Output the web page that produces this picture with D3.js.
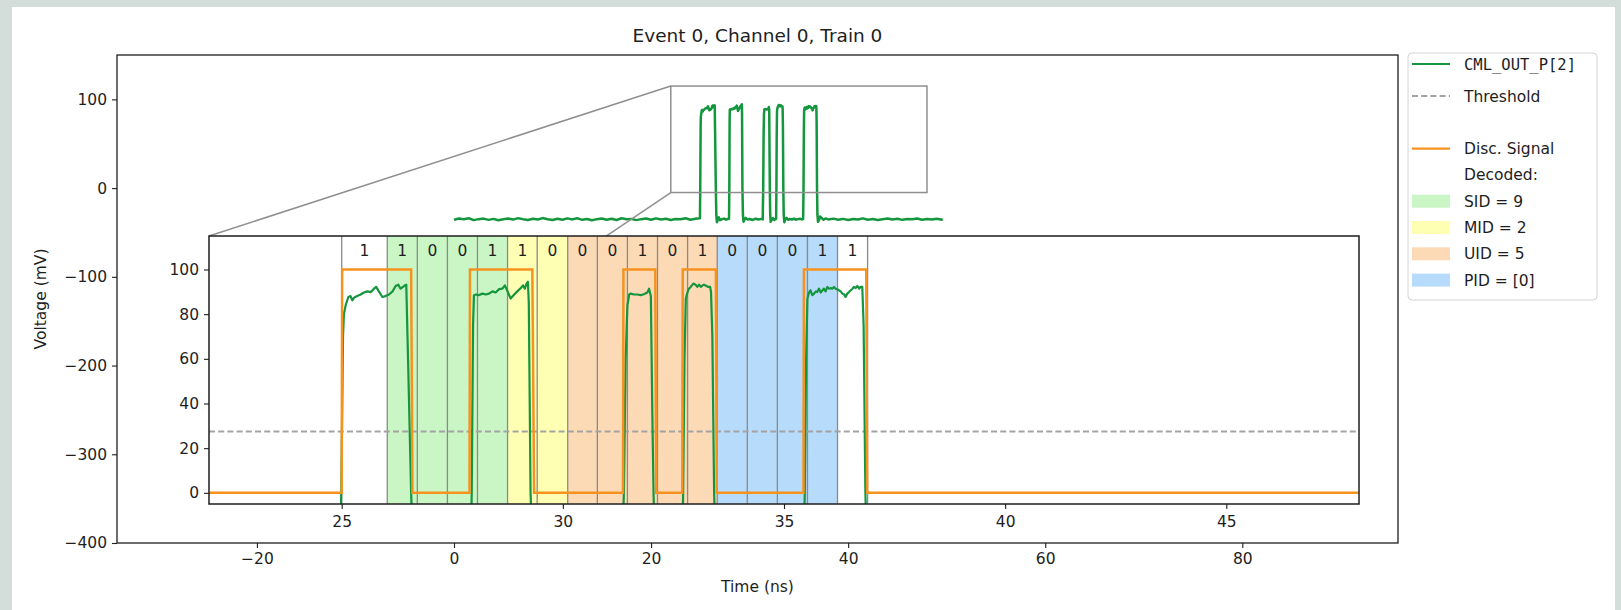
<!DOCTYPE html>
<html>
<head>
<meta charset="utf-8">
<script src="https://cdn.jsdelivr.net/npm/d3@7"></script>
<style>
  html, body { margin: 0; padding: 0; background: #d3dedb; }
  svg { display: block; font-family: "DejaVu Sans", sans-serif; }
</style>
</head>
<body>
<svg id="chart" width="1621" height="610"></svg>
<script>
// ---------------- data ----------------
const chartTitle = "Event 0, Channel 0, Train 0";
const xLabel = "Time (ns)";
const yLabel = "Voltage (mV)";

const outerXTicks = [-20, 0, 20, 40, 60, 80];
const outerYTicks = [-400, -300, -200, -100, 0, 100];
const insetXTicks = [25, 30, 35, 40, 45];
const insetYTicks = [0, 20, 40, 60, 80, 100];

// CML_OUT_P[2] waveform: time (ns) and voltage (mV)
const traceNs = [
  0.0, 0.5, 1.0, 1.5, 2.0, 2.5, 3.0, 3.5, 4.0, 4.5, 5.0, 5.5, 6.0, 6.5, 7.0, 7.5, 8.0, 8.5, 9.0, 9.5,
  10.0, 10.5, 11.0, 11.5, 12.0, 12.5, 13.0, 13.5, 14.0, 14.5, 15.0, 15.5, 16.0, 16.5, 17.0, 17.5, 18.0, 18.5, 19.0, 19.5,
  20.0, 20.5, 21.0, 21.5, 22.0, 22.5, 23.0, 23.5, 24.0, 24.5,
  24.96, 24.99, 25.03, 25.05, 25.09, 25.15, 25.20, 25.24, 25.28, 25.35, 25.43, 25.50, 25.58, 25.66, 25.73, 25.78,
  25.84, 25.92, 25.99, 26.07, 26.15, 26.22, 26.28, 26.33, 26.41, 26.46, 26.50, 26.57, 26.62, 26.68, 26.78, 26.88,
  27.0, 27.2, 27.4, 27.6, 27.8,
  27.91, 27.94, 27.97, 27.99, 28.03, 28.10, 28.18, 28.26, 28.33, 28.41, 28.48, 28.56, 28.63, 28.69, 28.75, 28.82,
  28.90, 28.97, 29.05, 29.10, 29.14, 29.18, 29.21, 29.23, 29.27, 29.32, 29.38, 29.5, 29.6, 29.8, 30.0, 30.3, 30.6,
  30.9, 31.2, 31.33,
  31.35, 31.38, 31.42, 31.46, 31.50, 31.53, 31.61, 31.68, 31.76, 31.83, 31.91, 31.95, 31.97, 31.99, 32.02, 32.05,
  32.09, 32.14, 32.25, 32.38, 32.5, 32.62, 32.69,
  32.72, 32.75, 32.78, 32.82, 32.85, 32.89, 32.95, 33.00, 33.04, 33.08, 33.12, 33.16, 33.19, 33.25, 33.28, 33.33,
  33.35, 33.38, 33.42, 33.46, 33.52, 33.62, 33.75, 33.9, 34.1, 34.3, 34.5, 34.7, 34.9, 35.1, 35.3, 35.43,
  35.45, 35.47, 35.50, 35.53, 35.57, 35.60, 35.64, 35.68, 35.72, 35.75, 35.79, 35.83, 35.87, 35.90, 35.94, 35.98,
  36.02, 36.06, 36.09, 36.13, 36.17, 36.21, 36.24, 36.28, 36.32, 36.36, 36.39, 36.43, 36.47, 36.51, 36.55, 36.58,
  36.62, 36.66, 36.70, 36.73, 36.77, 36.80, 36.84, 36.88, 36.94, 37.05, 37.15, 37.3, 37.5, 37.7, 38.0,
  38.5, 39.0, 39.5, 40.0, 40.5, 41.0, 41.5, 42.0, 42.5, 43.0, 43.5, 44.0, 44.5, 45.0, 45.5, 46.0, 46.5, 47.0,
  47.5, 48.0, 48.5, 49.0, 49.5, 49.6
];
const traceMv = [
  -35.6, -34.3, -35.2, -34.0, -36.1, -35.0, -34.4, -35.8, -34.7, -36.2, -35.1, -34.2, -35.5, -33.9, -35.0, -35.9, -34.5, -35.4, -33.8, -35.1,
  -36.0, -34.6, -35.7, -34.1, -35.3, -33.9, -35.8, -34.8, -36.3, -35.0, -34.2, -35.6, -34.6, -36.0, -34.0, -35.2, -34.7, -36.1, -35.0, -34.3,
  -35.7, -34.1, -35.4, -34.5, -36.0, -34.8, -35.2, -34.0, -35.7, -34.6,
  -34.0, 0.0, 70.0, 80.0, 84.0, 87.7, 88.1, 86.2, 87.4, 88.1, 88.8, 89.7, 90.2, 89.9, 91.4, 92.2,
  90.2, 87.7, 88.1, 88.8, 90.2, 92.6, 93.2, 91.4, 92.6, 93.2, 60.0, 0.0, -30.0, -38.5, -35.5, -33.0,
  -36.2, -35.0, -34.4, -35.6, -34.8,
  -34.5, 0.0, 75.0, 88.5, 88.8, 88.5, 89.2, 88.8, 89.2, 90.2, 89.7, 91.2, 91.4, 92.9, 90.2, 87.0,
  88.8, 90.2, 91.7, 92.9, 91.4, 93.7, 94.5, 85.0, 0.0, -30.0, -37.8, -35.0, -33.6, -35.4, -34.8, -35.9, -34.5,
  -35.3, -34.7, -35.3,
  -20.0, 0.0, 60.0, 84.0, 88.8, 89.2, 88.8, 88.8, 88.5, 88.9, 89.7, 91.4, 89.7, 88.0, 40.0, 0.0,
  -30.0, -38.0, -35.5, -33.8, -35.9, -35.0, -34.6,
  0.0, 60.0, 87.0, 89.9, 91.4, 92.2, 93.7, 93.2, 92.2, 93.2, 92.2, 92.9, 93.2, 92.6, 92.2, 92.2,
  89.9, 70.0, 0.0, -30.0, -38.5, -35.2, -33.6, -35.7, -34.8, -35.4, -34.4, -35.6, -35.0, -34.5, -35.3, -35.0,
  -20.0, 0.0, 60.0, 87.0, 89.9, 90.7, 88.5, 89.2, 90.2, 89.9, 91.4, 89.7, 90.7, 91.4, 90.2, 92.2,
  91.4, 91.7, 91.4, 92.2, 91.4, 91.1, 90.7, 90.2, 89.2, 88.8, 87.7, 89.2, 89.9, 90.7, 91.4, 92.2,
  91.7, 92.6, 91.4, 92.2, 92.2, 75.0, 0.0, -30.0, -38.0, -36.0, -32.0, -33.5, -35.8, -34.2, -35.3,
  -34.4, -35.6, -34.7, -35.9, -34.9, -35.3, -34.1, -35.6, -34.8, -36.0, -35.0, -34.3, -35.5, -34.6, -35.8, -34.9, -35.2, -34.2,
  -35.7, -34.8, -35.4, -34.5, -35.6, -35.1
];

// discriminator output (mV)
const discNs = [22.0, 25.00, 25.01, 26.57, 26.60, 27.89, 27.90, 29.31, 29.35, 31.36, 31.37, 32.09, 32.11,
                32.70, 32.71, 33.46, 33.48, 35.44, 35.45, 36.86, 36.88, 48.0];
const discMv = [0, 0, 100, 100, 0, 0, 100, 100, 0, 0, 100, 100, 0,
                0, 100, 100, 0, 0, 100, 100, 0, 0];

const thresholdMv = 27.5;

// decoded bit cells
const bitEdges = [25.00, 26.03, 26.71, 27.39, 28.07, 28.75, 29.42, 30.11, 30.78, 31.46, 32.14,
                  32.82, 33.49, 34.17, 34.85, 35.53, 36.21, 36.89];
const bitValues = [1, 1, 0, 0, 1, 1, 0, 0, 0, 1, 0, 1, 0, 0, 0, 1, 1];

// decoded fields: first bit index, bit count, legend text
const fieldLabels = ["SID = 9", "MID = 2", "UID = 5", "PID = [0]"];
const fieldFirstBit = [1, 5, 7, 12];
const fieldBitCount = [4, 2, 5, 4];
const fieldColors = ["#c9f6c4", "#ffffb4", "#fddab6", "#b7dbfa"];

// ---------------- layout ----------------
const COL_TRACE = "#13963d";
const COL_DISC = "#f6921e";
const COL_TEXT = "#1e1e1e";

const svg = d3.select("#chart");
svg.append("rect").attr("x", 12).attr("y", 7).attr("width", 1603).attr("height", 603).attr("fill", "#ffffff");

const outer = { left: 117, top: 55, right: 1398, bottom: 543 };
const inset = { left: 209, top: 236, right: 1359, bottom: 504 };

const xOuter = d3.scaleLinear().domain([-34.2, 95.8]).range([outer.left, outer.right]);
const yOuter = d3.scaleLinear().domain([-400, 150]).range([outer.bottom, outer.top]);
const xIn = d3.scaleLinear().domain([22, 48]).range([inset.left, inset.right]);
const yIn = d3.scaleLinear().domain([-5, 115]).range([inset.bottom, inset.top]);

const trace = traceNs.map((t, i) => [t, traceMv[i]]);
const disc = discNs.map((t, i) => [t, discMv[i]]);

const defs = svg.append("defs");
defs.append("clipPath").attr("id", "clipOuter").append("rect")
  .attr("x", outer.left).attr("y", outer.top)
  .attr("width", outer.right - outer.left).attr("height", outer.bottom - outer.top);
defs.append("clipPath").attr("id", "clipInset").append("rect")
  .attr("x", inset.left).attr("y", inset.top)
  .attr("width", inset.right - inset.left).attr("height", inset.bottom - inset.top);

function styleAxis(g) {
  g.select(".domain").remove();
  g.selectAll(".tick line").attr("stroke", COL_TEXT).attr("stroke-width", 1.1);
  g.selectAll(".tick text").attr("fill", COL_TEXT).attr("font-size", 15.5)
    .attr("font-family", "DejaVu Sans");
}

// ---------------- main axes ----------------
const gOuter = svg.append("g");
gOuter.append("g").attr("clip-path", "url(#clipOuter)")
  .append("path").datum(trace)
  .attr("fill", "none").attr("stroke", COL_TRACE).attr("stroke-width", 2.5)
  .attr("stroke-linejoin", "round")
  .attr("d", d3.line().x(d => xOuter(d[0])).y(d => yOuter(d[1])));

// zoom indicator box and connectors
const zx0 = xOuter(xIn.domain()[0]), zx1 = xOuter(xIn.domain()[1]);
const zy0 = yOuter(yIn.domain()[1]), zy1 = yOuter(yIn.domain()[0]);
gOuter.append("rect").attr("x", zx0).attr("y", zy0).attr("width", zx1 - zx0).attr("height", zy1 - zy0)
  .attr("fill", "none").attr("stroke", "#8f8f8f").attr("stroke-width", 1.5);
gOuter.append("line").attr("x1", zx0).attr("y1", zy0).attr("x2", inset.left).attr("y2", inset.top)
  .attr("stroke", "#8f8f8f").attr("stroke-width", 1.5);
gOuter.append("line").attr("x1", zx0).attr("y1", zy1).attr("x2", inset.left).attr("y2", inset.bottom)
  .attr("stroke", "#8f8f8f").attr("stroke-width", 1.5);

gOuter.append("g").attr("transform", `translate(0,${outer.bottom})`)
  .call(d3.axisBottom(xOuter).tickValues(outerXTicks).tickSize(5).tickPadding(5)).call(styleAxis);
gOuter.append("g").attr("transform", `translate(${outer.left},0)`)
  .call(d3.axisLeft(yOuter).tickValues(outerYTicks).tickSize(5).tickPadding(5)).call(styleAxis);
gOuter.append("rect").attr("x", outer.left).attr("y", outer.top)
  .attr("width", outer.right - outer.left).attr("height", outer.bottom - outer.top)
  .attr("fill", "none").attr("stroke", COL_TEXT).attr("stroke-width", 1.3);

// titles
svg.append("text").attr("x", (outer.left + outer.right) / 2).attr("y", 42)
  .attr("text-anchor", "middle").attr("font-size", 18.5).attr("fill", COL_TEXT).text(chartTitle);
svg.append("text").attr("x", (outer.left + outer.right) / 2).attr("y", 592)
  .attr("text-anchor", "middle").attr("font-size", 15.5).attr("fill", COL_TEXT).text(xLabel);
svg.append("text").attr("transform", `translate(46,${(outer.top + outer.bottom) / 2}) rotate(-90)`)
  .attr("text-anchor", "middle").attr("font-size", 15.5).attr("fill", COL_TEXT).text(yLabel);

// ---------------- inset axes ----------------
const gIn = svg.append("g");
gIn.append("rect").attr("x", inset.left).attr("y", inset.top)
  .attr("width", inset.right - inset.left).attr("height", inset.bottom - inset.top).attr("fill", "#ffffff");

const gInPlot = gIn.append("g").attr("clip-path", "url(#clipInset)");

// field shading
fieldLabels.forEach((lab, k) => {
  const a = bitEdges[fieldFirstBit[k]];
  const b = bitEdges[fieldFirstBit[k] + fieldBitCount[k]];
  gInPlot.append("rect").attr("x", xIn(a)).attr("y", inset.top)
    .attr("width", xIn(b) - xIn(a)).attr("height", inset.bottom - inset.top)
    .attr("fill", fieldColors[k]);
});

// bit cell boundaries
gInPlot.selectAll("line.edge").data(bitEdges).join("line").attr("class", "edge")
  .attr("x1", d => xIn(d)).attr("x2", d => xIn(d))
  .attr("y1", inset.top).attr("y2", inset.bottom)
  .attr("stroke", "#8a8a8a").attr("stroke-width", 1.3);

// threshold
gInPlot.append("line").attr("x1", inset.left).attr("x2", inset.right)
  .attr("y1", yIn(thresholdMv)).attr("y2", yIn(thresholdMv))
  .attr("stroke", "#a3a3a3").attr("stroke-width", 2).attr("stroke-dasharray", "6,3.2");

gInPlot.append("path").datum(trace)
  .attr("fill", "none").attr("stroke", COL_TRACE).attr("stroke-width", 2.2)
  .attr("stroke-linejoin", "round")
  .attr("d", d3.line().x(d => xIn(d[0])).y(d => yIn(d[1])));

gInPlot.append("path").datum(disc)
  .attr("fill", "none").attr("stroke", COL_DISC).attr("stroke-width", 2.5)
  .attr("d", d3.line().x(d => xIn(d[0])).y(d => yIn(d[1])));

// bit labels
gInPlot.selectAll("text.bit").data(bitValues).join("text").attr("class", "bit")
  .attr("x", (d, i) => xIn((bitEdges[i] + bitEdges[i + 1]) / 2))
  .attr("y", yIn(108.6))
  .attr("dy", "0.36em")
  .attr("text-anchor", "middle").attr("font-size", 15.5).attr("fill", COL_TEXT)
  .text(d => d);

gIn.append("g").attr("transform", `translate(0,${inset.bottom})`)
  .call(d3.axisBottom(xIn).tickValues(insetXTicks).tickSize(5).tickPadding(7)).call(styleAxis);
gIn.append("g").attr("transform", `translate(${inset.left},0)`)
  .call(d3.axisLeft(yIn).tickValues(insetYTicks).tickSize(5).tickPadding(5)).call(styleAxis);
gIn.append("rect").attr("x", inset.left).attr("y", inset.top)
  .attr("width", inset.right - inset.left).attr("height", inset.bottom - inset.top)
  .attr("fill", "none").attr("stroke", COL_TEXT).attr("stroke-width", 1.5);

// ---------------- legend ----------------
const legendRows = [
  { kind: "line", color: COL_TRACE, text: "CML_OUT_P[2]", mono: true },
  { kind: "dash", color: "#a3a3a3", text: "Threshold" },
  { kind: "blank", text: "" },
  { kind: "line", color: COL_DISC, text: "Disc. Signal" },
  { kind: "none", text: "Decoded:" }
].concat(fieldLabels.map((t, k) => ({ kind: "patch", color: fieldColors[k], text: t })));

const gLeg = svg.append("g");
gLeg.append("rect").attr("x", 1408).attr("y", 53).attr("width", 189).attr("height", 247)
  .attr("rx", 4).attr("fill", "#ffffff").attr("stroke", "#d4d4d4").attr("stroke-width", 1);
// first row sits a little higher than the regular spacing
const legRowY = i => (i === 0 ? 64 : 96 + (i - 1) * 26.3);
const hx0 = 1412, hx1 = 1450, tx = 1464;
legendRows.forEach((r, i) => {
  const y = legRowY(i);
  if (r.kind === "line" || r.kind === "dash") {
    gLeg.append("line").attr("x1", hx0).attr("x2", hx1).attr("y1", y).attr("y2", y)
      .attr("stroke", r.color).attr("stroke-width", r.kind === "dash" ? 2 : 2.2)
      .attr("stroke-dasharray", r.kind === "dash" ? "6,3.2" : null);
  } else if (r.kind === "patch") {
    gLeg.append("rect").attr("x", hx0).attr("y", y - 6.5).attr("width", hx1 - hx0).attr("height", 13)
      .attr("fill", r.color);
  }
  if (r.text) {
    gLeg.append("text").attr("x", tx).attr("y", y).attr("dy", "0.36em")
      .attr("font-size", 15.5).attr("fill", COL_TEXT)
      .attr("font-family", r.mono ? "DejaVu Sans Mono" : "DejaVu Sans")
      .text(r.text);
  }
});
</script>
</body>
</html>
